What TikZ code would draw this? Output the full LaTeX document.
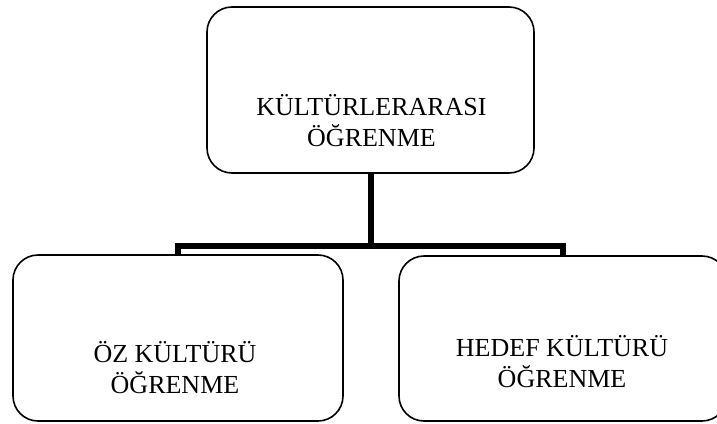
\documentclass[tikz,border=0pt]{standalone}
\usepackage{fontspec}
\setmainfont{Liberation Serif}
\begin{document}
\begin{tikzpicture}[x=1pt,y=-1pt,
  boxst/.style={draw, line width=1.6pt, rounded corners=25pt, inner sep=0pt},
  conn/.style={line width=6pt, line join=miter},
  lbl/.style={font=\fontsize{26}{30.5}\selectfont, align=center, inner sep=0pt, anchor=base}]
\useasboundingbox (0,0) rectangle (717,423);
\node[boxst, minimum width=327pt, minimum height=166pt] (top) at (370.5,90) {};
\node[boxst, minimum width=330pt, minimum height=166pt] (left) at (178,338) {};
\node[boxst, minimum width=328pt, minimum height=165pt] (right) at (563,338.5) {};
\node[lbl] (toptxt) at (371.5,146) {KÜLTÜRLERARASI\\ÖĞRENME};
\node[lbl] (lefttxt) at (175,393) {ÖZ KÜLTÜRÜ\\ÖĞRENME};
\node[lbl] (righttxt) at (562,387) {HEDEF KÜLTÜRÜ\\ÖĞRENME};
\coordinate (junc) at (top.south |- 0,246);
\draw[conn] (top.south) -- (junc);
\draw[conn] (left.north) -- (left.north |- junc) -- (right.north |- junc) -- (right.north);
\end{tikzpicture}
\end{document}
